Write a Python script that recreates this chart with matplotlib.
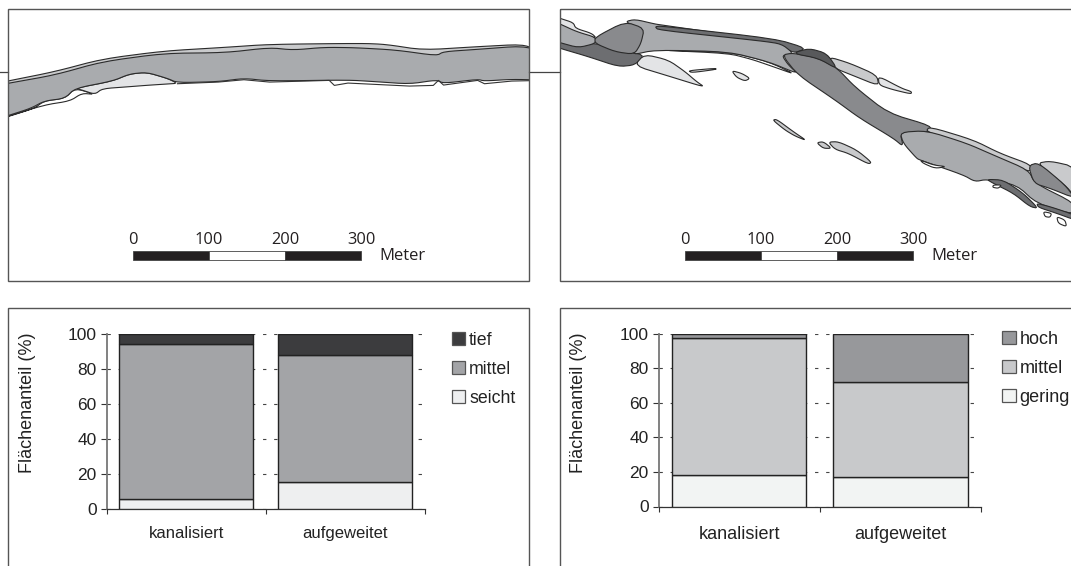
#!/usr/bin/env python3
# -*- coding: utf-8 -*-
"""
Flaechenanteile kanalisiert / aufgeweitet, with the two river maps above the bars
"""

import matplotlib
matplotlib.use("Agg")
import matplotlib.pyplot as plt
from matplotlib.patches import Patch, Rectangle
import numpy as np

W, H = 1071, 566

## Bar data (percent of area, stacked from the bottom)
stellen = ["kanalisiert", "aufgeweitet"]

tiefe_labels = ["seicht", "mittel", "tief"]
tiefe_seicht = [5.5, 15.5]
tiefe_mittel = [88.5, 72.0]
tiefe_tief = [6.0, 12.5]

gefahr_labels = ["gering", "mittel", "hoch"]
gefahr_gering = [18.0, 17.0]
gefahr_mittel = [79.5, 55.0]
gefahr_hoch = [2.5, 28.0]

## Colours
map_mid = "#a9abae"
map_light = "#e3e4e6"
map_pale = "#c9cacc"
map_dark = "#6d6e71"
map_darker = "#58595b"
map_slate = "#898a8d"

## Map outlines
# left map, traced on an enlargement (x / 2.931, y / 3)
left_top = [(0, 248), (23, 243), (160, 215), (300, 177), (480, 153), (660, 142), (790, 133), (1060, 130), (1130, 133), (1240, 150),
            (1400, 140), (1530, 133), (1575, 150), (1530, 145), (1400, 155), (1300, 160), (1280, 172), (1160, 155),
            (1040, 148), (950, 147), (860, 155), (790, 148), (660, 163), (480, 165), (300, 190), (160, 230), (23, 255), (0, 260)]
left_main = [(0, 255), (23, 250), (160, 225), (300, 185), (480, 160), (660, 158), (790, 143), (860, 150), (950, 142), (1040, 143),
             (1160, 150), (1280, 167), (1300, 155), (1400, 148), (1530, 138), (1590, 155), (1590, 240), (1500, 238),
             (1420, 243), (1400, 238), (1300, 250), (1280, 240), (1200, 252), (1100, 245), (1020, 240), (790, 243),
             (715, 235), (640, 245), (520, 248), (490, 235), (430, 217), (380, 222), (330, 243), (220, 265), (190, 295),
             (130, 303), (90, 325), (23, 347), (0, 354)]
left_bank = [(220, 265), (330, 243), (380, 222), (430, 217), (490, 235), (520, 250), (490, 252), (430, 256), (380, 260),
             (300, 266), (278, 283), (240, 270)]
left_white = [(0, 356), (23, 350), (100, 325), (130, 303), (190, 295), (220, 265), (278, 283), (240, 280), (205, 303), (130, 315)]
left_fringe = [(520, 250), (640, 245), (715, 238), (790, 245), (965, 240), (980, 255), (1020, 248), (1100, 252), (1200, 257),
               (1270, 255), (1285, 240), (1300, 254), (1400, 240), (1420, 250), (1500, 242), (1590, 240)]

# right map, first part traced on a 3x enlargement with origin (555, 0)
r_light_a = [(0, 50), (15, 55), (55, 68), (62, 85), (110, 100), (125, 115), (65, 100), (15, 78), (0, 70)]
r_mid_a = [(0, 66), (15, 72), (65, 95), (122, 112), (122, 130), (70, 143), (15, 128), (0, 123)]
r_dark_a = [(0, 120), (15, 125), (70, 140), (120, 128), (180, 152), (270, 163), (240, 195), (190, 200), (100, 170), (15, 145), (0, 139)]
r_mid_b = [(210, 65), (240, 58), (300, 72), (320, 75), (600, 115), (690, 130), (715, 165), (680, 165), (700, 195), (730, 222),
           (640, 185), (520, 155), (300, 150), (230, 165), (250, 130), (255, 85)]
r_slate_a = [(120, 112), (210, 65), (268, 85), (258, 130), (238, 163), (180, 155), (120, 130)]
r_dark_b = [(300, 80), (320, 78), (660, 116), (755, 145), (715, 160), (680, 132), (620, 123), (310, 90)]
r_darker = [(712, 160), (762, 145), (815, 160), (848, 208), (790, 175)]
r_pale_a = [(820, 170), (885, 190), (965, 225), (972, 258), (890, 225), (840, 205)]
r_light_b = [(970, 228), (1040, 265), (1070, 275), (1068, 282), (1010, 268), (972, 255)]
r_light_c = [(238, 197), (268, 163), (340, 180), (390, 215), (425, 245), (450, 262), (340, 228)]
r_strip = [(300, 150), (520, 155), (640, 185), (725, 225), (640, 195), (590, 178), (520, 160)]
r_isl_a = [(400, 212), (480, 205), (485, 208), (410, 218)]
r_isl_b = [(530, 212), (560, 220), (585, 235), (570, 243), (545, 232)]

# right map, second part traced on a 3x enlargement with origin (760, 100)
r_slate_b = [(66, -135), (99, -141), (174, -126), (231, -96), (285, -39), (384, 39), (515, 78), (505, 97), (420, 97), (430, 140),
             (400, 115), (300, 55), (225, 0), (114, -75)]
r_light_d = [(508, 80), (640, 120), (720, 160), (815, 195), (810, 218), (700, 170), (620, 135), (498, 95)]
r_mid_c = [(420, 97), (500, 92), (620, 130), (700, 165), (805, 210), (825, 250), (945, 310), (945, 345), (830, 310), (770, 255),
           (680, 238), (645, 245), (610, 225), (480, 180), (470, 175), (430, 130)]
r_dark_c = [(680, 238), (730, 240), (790, 280), (835, 325), (810, 320), (760, 280), (700, 250)]
r_dark_d = [(830, 310), (870, 320), (945, 345), (945, 360), (890, 340), (835, 322)]
r_pale_b = [(830, 190), (870, 183), (945, 200), (945, 290), (915, 255)]
r_slate_c = [(805, 197), (835, 188), (915, 255), (945, 295), (870, 265), (822, 250)]
r_white = [[(480, 180), (520, 195), (560, 200), (525, 205), (490, 190)],
           [(700, 255), (725, 255), (715, 265), (698, 262)],
           [(850, 335), (875, 340), (870, 352), (855, 350)],
           [(890, 350), (915, 360), (920, 380), (895, 370)]]
r_isl_c = [(38, 60), (50, 58), (100, 95), (140, 122), (105, 108), (75, 90)]
r_isl_d = [(170, 128), (190, 125), (215, 145), (190, 145)]
r_isl_e = [(205, 126), (235, 125), (290, 150), (335, 187), (325, 192), (265, 160), (225, 148)]

## Scale bar
skala_werte = [0, 100, 200, 300]
skala_px = 228 / 300.0


def rounded(xs, ys, cut=0.2, n=2):
    # light corner cutting, the banks are soft curves but neighbours must still touch
    p = np.column_stack([xs, ys])
    for _ in range(n):
        q = np.roll(p, -1, axis=0)
        a = p
        p = np.empty((2 * len(a), 2))
        p[0::2] = (1 - cut) * a + cut * q
        p[1::2] = cut * a + (1 - cut) * q
    return p[:, 0], p[:, 1]


def px(points, ox=0, oy=0, sx=3.0):
    # traced coordinates back to figure pixels
    p = np.array(points, dtype=float)
    return ox + p[:, 0] / sx, oy + p[:, 1] / 3.0


def shape(ax, points, color, ox=0, oy=0, clip=None, sx=3.0):
    xs, ys = px(points, ox, oy, sx)
    xs, ys = rounded(xs, ys)
    patch, = ax.fill(xs, ys, facecolor=color, edgecolor="#2b2b2b", linewidth=0.8, joinstyle="round")
    if clip is not None:
        patch.set_clip_path(clip)


def scalebar(ax, x0, y0):
    xs = [x0 + v * skala_px for v in skala_werte]
    for i in range(3):
        ax.add_patch(Rectangle((xs[i], y0), xs[i + 1] - xs[i], 9.5, facecolor="#231f20" if i != 1 else "white",
                               edgecolor="#444444", linewidth=0.6))
    for x, v in zip(xs, skala_werte):
        ax.text(x, y0 - 2.5, str(v), ha="center", va="bottom", fontsize=11.8, family="Open Sans", color="#231f20")
    ax.text(xs[-1] + 18, y0 + 5, "Meter", ha="left", va="center", fontsize=12, family="Open Sans", color="#231f20")


def stacked(rect, series, labels, colors, fs_tick, fs_cat, fs_leg, width, legend_at, spacing, cat_pad, label_x):
    ax = fig.add_axes([rect[0] / W, 1 - rect[3] / H, (rect[1] - rect[0]) / W, (rect[3] - rect[2]) / H])
    xpos = np.array([0.5, 1.5])
    bottom = np.zeros(2)
    for vals, col, lab in zip(series, colors, labels):
        ax.bar(xpos, vals, width=width, bottom=bottom, color=col, edgecolor="#222222", linewidth=1.0, label=lab, zorder=3)
        bottom = bottom + np.array(vals)
    ax.set_xlim(0, 2)
    ax.set_ylim(0, 100)
    ax.set_yticks([0, 20, 40, 60, 80, 100])
    ax.set_xticks([0, 1, 2])
    ax.set_xticklabels([])
    ax.set_xticks(xpos, minor=True)
    ax.set_xticklabels(stellen, minor=True, fontsize=fs_cat, color="#222222")
    ax.tick_params(axis="x", which="major", length=3.5, width=0.8, color="#333333")
    ax.tick_params(axis="x", which="minor", length=0, pad=cat_pad)
    ax.tick_params(axis="y", length=4, width=0.8, color="#333333", labelsize=fs_tick, labelcolor="#222222", pad=3)
    ax.yaxis.grid(True, color="#444444", linewidth=0.8, linestyle=(0, (3, 7)), zorder=0)
    ax.set_axisbelow(True)
    ax.set_ylabel("Flächenanteil (%)", fontsize=13, color="#222222")
    # the label sits above the middle of the axis
    ax.yaxis.set_label_coords((label_x - rect[0]) / (rect[1] - rect[0]), (rect[3] - 402.5) / (rect[3] - rect[2]))
    for s in ["top", "right"]:
        ax.spines[s].set_visible(False)
    ax.spines["left"].set_color("#777777")
    ax.spines["left"].set_linewidth(1.3)
    ax.spines["bottom"].set_color("#333333")
    ax.spines["bottom"].set_linewidth(0.9)
    handles = [Patch(facecolor=c, edgecolor="#555555", linewidth=0.9, label=l) for c, l in zip(colors, labels)][::-1]
    fig.legend(handles=handles, loc="upper left", bbox_to_anchor=(legend_at[0] / W, 1 - legend_at[1] / H), frameon=False,
               fontsize=fs_leg, handlelength=0.75, handleheight=0.75, handletextpad=0.22, labelspacing=spacing,
               borderpad=0, borderaxespad=0, labelcolor="#222222")
    return ax


plt.rcParams["font.family"] = ["Liberation Sans", "DejaVu Sans"]
fig = plt.figure(figsize=(W / 100.0, H / 100.0), dpi=100)

## Background layer in figure pixels: frames and maps
bg = fig.add_axes([0, 0, 1, 1])
bg.set_xlim(0, W)
bg.set_ylim(H, 0)
bg.axis("off")

frame_col = "#555555"
bg.add_patch(Rectangle((7.5, 308), 521.5, 280, facecolor="white", edgecolor=frame_col, linewidth=1.0))
bg.add_patch(Rectangle((560, 308), 520, 280, facecolor="white", edgecolor=frame_col, linewidth=1.0))

# axis stubs of the map section line
bg.plot([0, 7.5], [72, 72], color="#444444", linewidth=0.9)
bg.plot([529, 560], [72, 72], color="#444444", linewidth=0.9)

# left map
clip_l = Rectangle((7.5, 9), 521.5, 272, transform=bg.transData)
shape(bg, left_white, "white", clip=clip_l, sx=2.931)
shape(bg, left_bank, map_light, clip=clip_l, sx=2.931)
shape(bg, left_top, map_pale, clip=clip_l, sx=2.931)
shape(bg, left_main, map_mid, clip=clip_l, sx=2.931)
xs, ys = px(left_fringe, sx=2.931)
fringe, = bg.plot(xs, ys + 0.4, color="#333333", linewidth=0.8)
fringe.set_clip_path(clip_l)

# right map
clip_r = Rectangle((560, 9), 511, 272, transform=bg.transData)
for pts, col in [(r_light_a, map_light), (r_dark_a, map_dark), (r_mid_a, map_mid), (r_light_c, map_light),
                 (r_strip, "white"), (r_mid_b, map_mid), (r_slate_a, map_slate), (r_dark_b, map_dark), (r_pale_a, map_pale),
                 (r_light_b, map_light), (r_isl_a, map_light), (r_isl_b, map_light)]:
    shape(bg, pts, col, 555, 0, clip_r)
for pts, col in [(r_slate_b, map_slate), (r_light_d, map_pale), (r_mid_c, map_mid), (r_dark_c, map_dark), (r_dark_d, map_dark),
                 (r_pale_b, map_pale), (r_slate_c, map_slate), (r_isl_c, map_pale), (r_isl_d, map_pale), (r_isl_e, map_pale)]:
    shape(bg, pts, col, 760, 100, clip_r)
shape(bg, r_darker, map_darker, 555, 0, clip_r)
for pts in r_white:
    shape(bg, pts, "white", 760, 100, clip_r)

# frames on top of the map edges
bg.add_patch(Rectangle((7.5, 9), 521.5, 272, facecolor="none", edgecolor=frame_col, linewidth=1.0, zorder=5))
bg.add_patch(Rectangle((560, 9), 520, 272, facecolor="none", edgecolor=frame_col, linewidth=1.0, zorder=5))

scalebar(bg, 133, 250.5)
scalebar(bg, 685, 250.5)
bg.set_xlim(0, W)
bg.set_ylim(H, 0)

## Bars, axes placed in figure pixels (left, right, top, bottom)
stacked((106.5, 425, 333.5, 509), [tiefe_seicht, tiefe_mittel, tiefe_tief], tiefe_labels, ["#eeeff0", "#a3a4a7", "#3c3c3e"],
        12.5, 12, 12.8, 0.84, (452, 332), 0.67, 12.5, 36)
stacked((658.5, 981, 333.5, 506.5), [gefahr_gering, gefahr_mittel, gefahr_hoch], gefahr_labels, ["#f2f4f3", "#c8c9cb", "#97989b"],
        12.5, 13, 13, 0.835, (1002, 331), 0.66, 14, 587)

fig.savefig("out.png", dpi=100)
plt.close("all")
